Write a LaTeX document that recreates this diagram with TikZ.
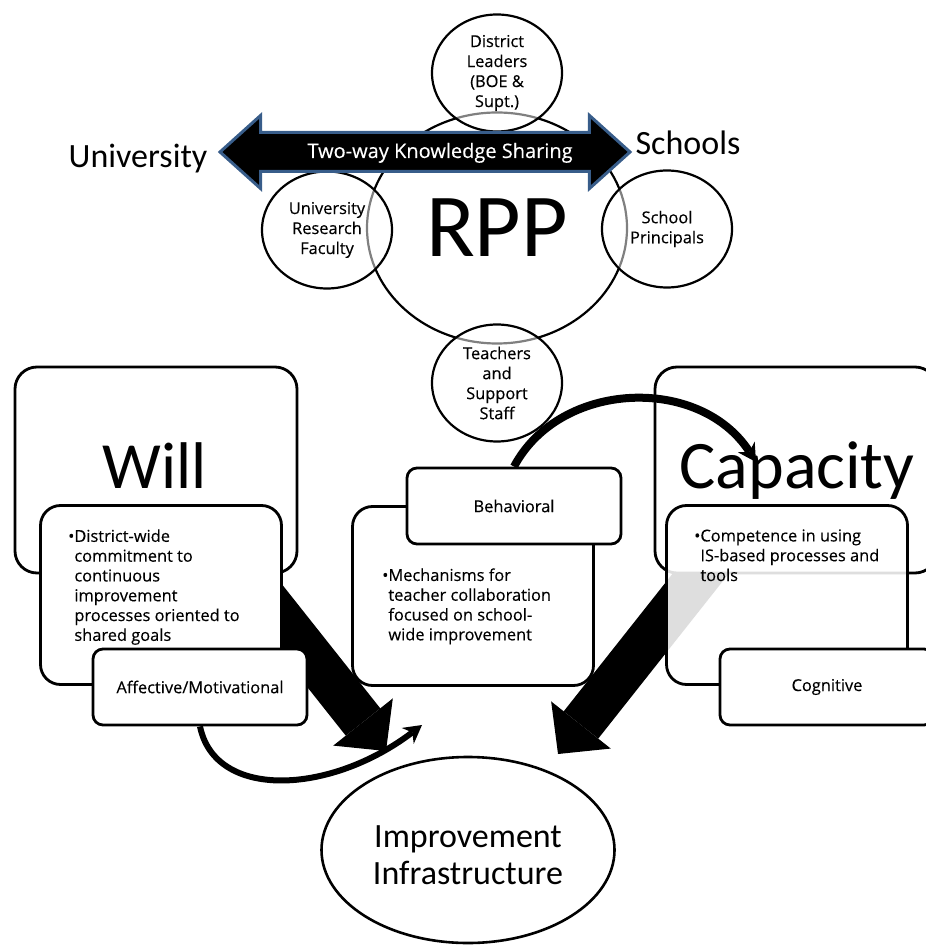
\documentclass[tikz,border=0pt]{standalone}
\usepackage{fontspec}
\setmainfont{Carlito}
\newfontfamily\segoe{Open Sans}[FakeBold=0.3]
\usetikzlibrary{shapes.geometric,shapes.arrows,arrows.meta}
\definecolor{arrowblue}{HTML}{385D8A}

\begin{document}
\begin{tikzpicture}[x=0.5pt, y=-0.5pt,
    member/.style={ellipse, draw, line width=1.1pt, fill=white, fill opacity=0.5, text opacity=1,
      minimum width=65pt, minimum height=58.5pt, inner sep=0pt, align=center,
      font=\segoe\fontsize{8.2}{10}\selectfont},
    panel/.style={rectangle, draw, line width=1.4pt, fill=white, rounded corners=10pt,
      minimum width=120.5pt, minimum height=89.5pt},
    bigpanel/.style={panel, rounded corners=11pt, minimum width=141pt, minimum height=103pt},
    tag/.style={rectangle, draw, line width=1.4pt, fill=white, rounded corners=5pt,
      minimum width=107pt, minimum height=38pt, font=\segoe\fontsize{8.2}{10}\selectfont},
    bullets/.style={anchor=north west, inner sep=0pt, align=left,
      font=\segoe\fontsize{8.2}{9.9}\selectfont},
    heavy/.style={line width=22pt, -{Triangle[length=18.5pt, width=38pt, line width=0pt]}},
    curvy/.style={line width=#1, -{Stealth[length=9pt, width=10pt, line width=0pt]}},
  ]
  \useasboundingbox (0,0) rectangle (925,945);

  % partnership
  \node[ellipse, draw, line width=1.1pt, minimum width=130pt, minimum height=115.5pt, inner sep=0pt,
    font=\fontsize{45}{45}\selectfont] (rpp) at (497,228) {RPP};
  \node[member] (district) at (497,73) {District\\Leaders\\(BOE \&\\Supt.)};
  \node[member] (univ) at (327,230) {University\\Research\\Faculty};
  \node[member] (principals) at (667,229) {School\\Principals};
  \node[member] (teachers) at (497,383) {Teachers\\and\\Support\\Staff};

  \node[double arrow, double arrow head extend=8.5pt, double arrow tip angle=84,
    minimum height=205pt, inner xsep=0pt, inner ysep=0pt, text height=12pt, text depth=6pt,
    fill=black, draw=arrowblue, line width=1.5pt, text=white,
    font=\segoe\fontsize{10}{11}\selectfont] (sharing) at (425,152)
    {\hspace*{15pt}Two-way Knowledge Sharing};
  \node[anchor=base, font=\fontsize{17}{17}\selectfont] (unilbl) at (138,168) {University};
  \node[anchor=base, font=\fontsize{17}{17}\selectfont] (schoollbl) at (688,155) {Schools};

  % middle column
  \node[panel] (mech) at (473,596) {};
  \node[bullets] (mechtxt) at (388,568) {\llap{\textbullet}Mechanisms for\\teacher collaboration\\focused on school-\\wide improvement};

  \coordinate (wtail) at (237,563);
  \coordinate (wtip) at (386,751);
  \coordinate (ctail) at (713,558);
  \coordinate (ctip) at (558,754);
  \draw[heavy] (wtail) -- (wtip);
  \draw[heavy] (ctail) -- (ctip);

  % will
  \node[bigpanel] (will) at (156,470) {};
  \node[anchor=base, font=\fontsize{33}{33}\selectfont] (willlbl) at (155,488) {Will};
  \node[panel] (willin) at (161,595) {};
  \node[bullets] (willtxt) at (74,529) {\llap{\textbullet}District-wide\\commitment to\\continuous\\improvement\\processes oriented to\\shared goals};
  \node[tag] (affect) at (200,687) {Affective/Motivational};

  % capacity
  \node[bigpanel] (cap) at (796,470) {};
  \node[anchor=base, font=\fontsize{34}{34}\selectfont] (caplbl) at (797,488) {Capacity};
  \node[panel, fill opacity=0.87] (capin) at (787,595) {};
  \node[bullets] (captxt) at (700,529) {\llap{\textbullet}Competence in using\\IS-based processes and\\tools};
  \node[tag] (cogn) at (827,687) {Cognitive};

  \node[tag] (behav) at (514,506) {Behavioral};
  \coordinate (ptip) at (756,462);
  \draw[curvy=4pt] (behav.north) .. controls (560,380) and (700,375) .. (ptip);

  \node[ellipse, draw, line width=1.3pt, minimum width=146.5pt, minimum height=93pt] (infra) at (468,850) {};
  \node[align=center, font=\fontsize{17}{18.5}\selectfont] (infratxt) at (468,855) {Improvement\\Infrastructure};
  \coordinate (atip) at (422,725);
  \draw[curvy=3pt] (affect.south) .. controls (215,800) and (330,795) .. (atip);
\end{tikzpicture}
\end{document}
